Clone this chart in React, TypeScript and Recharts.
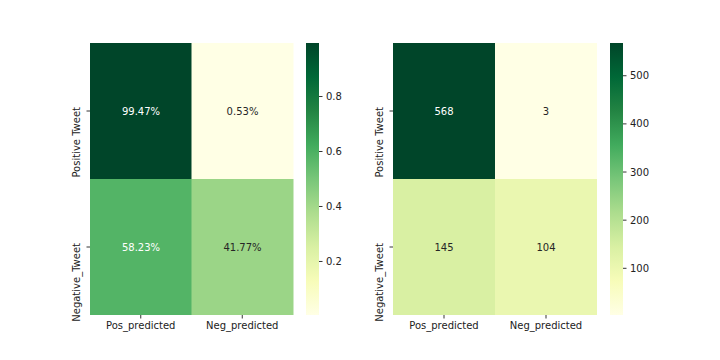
import React from 'react';
import { BarChart, Bar, XAxis, YAxis, Cell, LabelList } from 'recharts';

// ---- data ----
const columns = ['Pos_predicted', 'Neg_predicted'];
const rows = ['Positive Tweet', 'Negative_Tweet'];
const ratePositiveRow = [0.9947, 0.0053];
const rateNegativeRow = [0.5823, 0.4177];
const countPositiveRow = [568, 3];
const countNegativeRow = [145, 104];
const rateTicks = [0.2, 0.4, 0.6, 0.8];
const countTicks = [100, 200, 300, 400, 500];

// ---- style ----
const YLGN = ['#ffffe5', '#f7fcb9', '#d9f0a3', '#addd8e', '#78c679', '#41ab5d', '#238443', '#006837', '#004529'];
const FONT = '"DejaVu Sans", Verdana, sans-serif';
const TEXT = '#222222';

function hexToRgb(h: string) {
  return [parseInt(h.slice(1, 3), 16), parseInt(h.slice(3, 5), 16), parseInt(h.slice(5, 7), 16)];
}
function ylgn(t: number) {
  const c = Math.max(0, Math.min(1, t)) * (YLGN.length - 1);
  const i = Math.min(Math.floor(c), YLGN.length - 2);
  const f = c - i;
  const a = hexToRgb(YLGN[i]);
  const b = hexToRgb(YLGN[i + 1]);
  const r = a.map((v, k) => Math.round(v + (b[k] - v) * f));
  return `rgb(${r[0]},${r[1]},${r[2]})`;
}
function textColorFor(t: number) {
  const rgb = ylgn(t).match(/\d+/g)!.map(Number).map((v) => {
    const s = v / 255;
    return s <= 0.03928 ? s / 12.92 : Math.pow((s + 0.055) / 1.055, 2.4);
  });
  const lum = 0.2126 * rgb[0] + 0.7152 * rgb[1] + 0.0722 * rgb[2];
  return lum > 0.408 ? '#262626' : '#ffffff';
}

type HeatProps = {
  left: number;
  marginLeft: number;
  marginRight: number;
  topRow: number[];
  bottomRow: number[];
  fmt: (v: number) => string;
};

function Heatmap({ left, marginLeft, marginRight, topRow, bottomRow, fmt }: HeatProps) {
  const all = [...topRow, ...bottomRow];
  const vmin = Math.min(...all);
  const vmax = Math.max(...all);
  const norm = (v: number) => (v - vmin) / (vmax - vmin);
  const data = columns.map((c, j) => ({ col: c, top: 1, bottom: 1, topVal: topRow[j], bottomVal: bottomRow[j] }));
  const rowTicks = rows.map((_, i) => rows.length - i - 0.5);
  const rowLabel = (v: number) => rows[rows.length - 1 - Math.floor(v)];

  const CellLabel = (p: any) => {
    const { x, y, width, height, value } = p;
    return (
      <text
        x={x + width / 2}
        y={y + height / 2}
        dy="0.35em"
        textAnchor="middle"
        fontSize={10}
        fontFamily={FONT}
        fill={textColorFor(norm(value))}
      >
        {fmt(value)}
      </text>
    );
  };

  const YTick = (p: any) => {
    const tx = p.x - 7;
    const ty = p.y - 4;
    return (
      <text
        x={tx}
        y={ty}
        transform={`rotate(-90 ${tx} ${ty})`}
        textAnchor="end"
        fontSize={10}
        fontFamily={FONT}
        fill={TEXT}
      >
        {rowLabel(p.payload.value)}
      </text>
    );
  };
  const XTick = (p: any) => (
    <text x={p.x} y={p.y} dy="0.71em" textAnchor="middle" fontSize={10} fontFamily={FONT} fill={TEXT}>
      {p.payload.value}
    </text>
  );

  return (
    <div style={{ position: 'absolute', left, top: 0 }}>
      <BarChart
        width={300}
        height={360}
        data={data}
        margin={{ top: 43, bottom: 15, left: marginLeft, right: marginRight }}
        barCategoryGap={0}
        barGap={0}
      >
        <XAxis
          dataKey="col"
          type="category"
          height={30}
          axisLine={false}
          tickSize={3.5}
          tickMargin={3.5}
          tickLine={{ stroke: '#000', strokeWidth: 0.8 }}
          tick={<XTick />}
          interval={0}
        />
        <YAxis
          type="number"
          domain={[0, rows.length]}
          ticks={rowTicks}
          width={30}
          axisLine={false}
          tickSize={3.5}
          tickMargin={0}
          tickLine={{ stroke: '#000', strokeWidth: 0.8 }}
          tick={<YTick />}
          interval={0}
        />
        <Bar dataKey="bottom" stackId="s" isAnimationActive={false}>
          {data.map((d, i) => (
            <Cell key={i} fill={ylgn(norm(d.bottomVal))} />
          ))}
          <LabelList dataKey="bottomVal" content={<CellLabel />} />
        </Bar>
        <Bar dataKey="top" stackId="s" isAnimationActive={false}>
          {data.map((d, i) => (
            <Cell key={i} fill={ylgn(norm(d.topVal))} />
          ))}
          <LabelList dataKey="topVal" content={<CellLabel />} />
        </Bar>
      </BarChart>
    </div>
  );
}

type BarProps = {
  left: number;
  id: string;
  values: number[];
  ticks: number[];
  fmt: (v: number) => string;
};

function ColorBar({ left, id, values, ticks, fmt }: BarProps) {
  const vmin = Math.min(...values);
  const vmax = Math.max(...values);
  const data = [{ k: 'cb', range: [vmin, vmax] }];
  return (
    <div style={{ position: 'absolute', left, top: 0 }}>
      <BarChart
        width={64}
        height={360}
        data={data}
        margin={{ top: 43, bottom: 45, left: 10, right: 1 }}
        barCategoryGap={0}
      >
        <defs>
          <linearGradient id={id} x1="0" y1="1" x2="0" y2="0">
            {YLGN.map((c, i) => (
              <stop key={i} offset={i / (YLGN.length - 1)} stopColor={c} />
            ))}
          </linearGradient>
        </defs>
        <XAxis dataKey="k" type="category" hide />
        <YAxis
          type="number"
          orientation="right"
          domain={[vmin, vmax]}
          allowDataOverflow
          ticks={ticks}
          interval={0}
          width={40}
          axisLine={false}
          tickSize={3.5}
          tickMargin={3.5}
          tickLine={{ stroke: '#000', strokeWidth: 0.8 }}
          tick={{ fontSize: 10, fill: TEXT, fontFamily: FONT }}
          tickFormatter={fmt}
        />
        <Bar dataKey="range" fill={`url(#${id})`} isAnimationActive={false} />
      </BarChart>
    </div>
  );
}

export default function App() {
  const rateAll = [...ratePositiveRow, ...rateNegativeRow];
  const countAll = [...countPositiveRow, ...countNegativeRow];
  return (
    <div
      style={{
        position: 'absolute',
        left: 0,
        top: 0,
        width: 720,
        height: 360,
        background: '#ffffff',
        fontFamily: FONT,
        overflow: 'hidden',
      }}
    >
      <Heatmap
        left={0}
        marginLeft={60}
        marginRight={7}
        topRow={ratePositiveRow}
        bottomRow={rateNegativeRow}
        fmt={(v) => `${(v * 100).toFixed(2)}%`}
      />
      <ColorBar left={296} id="cbRate" values={rateAll} ticks={rateTicks} fmt={(v) => v.toFixed(1)} />
      <Heatmap
        left={300}
        marginLeft={63}
        marginRight={3}
        topRow={countPositiveRow}
        bottomRow={countNegativeRow}
        fmt={(v) => `${v}`}
      />
      <ColorBar left={600} id="cbCount" values={countAll} ticks={countTicks} fmt={(v) => `${v}`} />
    </div>
  );
}
